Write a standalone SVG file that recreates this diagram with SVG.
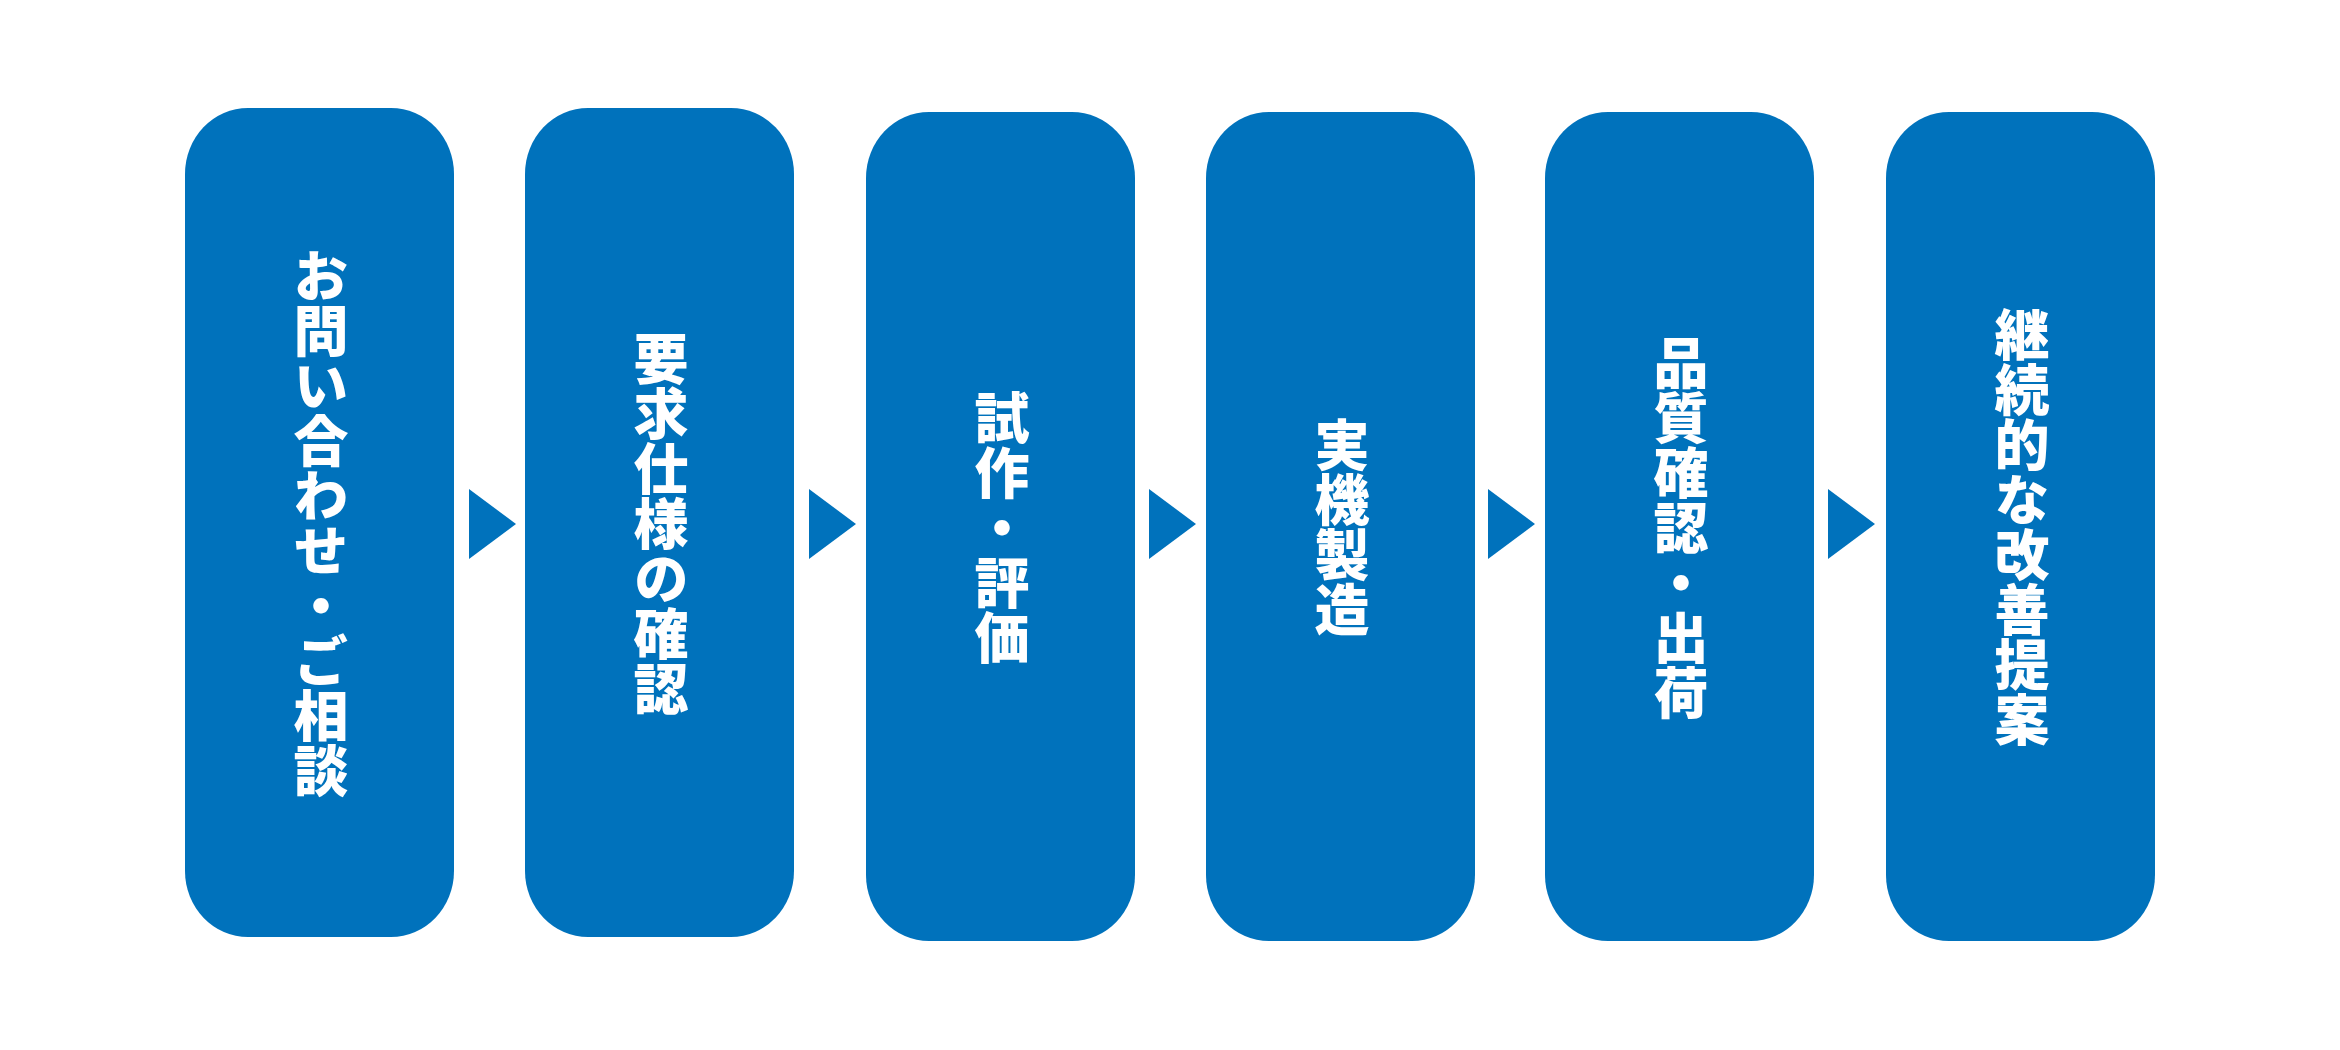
<svg xmlns="http://www.w3.org/2000/svg" width="2340" height="1050" viewBox="0 0 2340 1050">
<style>
.box{fill:#0072BC}
.arr{fill:#0072BC}
.lbl{fill:#FFFFFF;font-family:"Noto Sans CJK JP","Noto Sans CJK SC",sans-serif;font-weight:900;font-size:55px;writing-mode:vertical-rl;text-anchor:middle}
</style>
<rect width="2340" height="1050" fill="#FFFFFF"/>
<g id="node1"><rect class="box" x="185" y="108" width="269" height="829" rx="63" ry="66"/><text class="lbl" x="321" y="523">お問い合わせ・ご相談</text></g>
<g id="node2"><rect class="box" x="525" y="108" width="269" height="829" rx="63" ry="66"/><text class="lbl" x="661" y="523">要求仕様の確認</text></g>
<g id="node3"><rect class="box" x="866" y="112" width="269" height="829" rx="63" ry="66"/><text class="lbl" x="1002" y="527">試作・評価</text></g>
<g id="node4"><rect class="box" x="1206" y="112" width="269" height="829" rx="63" ry="66"/><text class="lbl" x="1342" y="527">実機製造</text></g>
<g id="node5"><rect class="box" x="1545" y="112" width="269" height="829" rx="63" ry="66"/><text class="lbl" x="1681" y="527">品質確認・出荷</text></g>
<g id="node6"><rect class="box" x="1886" y="112" width="269" height="829" rx="63" ry="66"/><text class="lbl" x="2022" y="527">継続的な改善提案</text></g>
<g id="connectors">
<polygon class="arr" points="469,489 516,524 469,559"/>
<polygon class="arr" points="809,489 856,524 809,559"/>
<polygon class="arr" points="1149,489 1196,524 1149,559"/>
<polygon class="arr" points="1488,489 1535,524 1488,559"/>
<polygon class="arr" points="1828,489 1875,524 1828,559"/>
</g>
</svg>
